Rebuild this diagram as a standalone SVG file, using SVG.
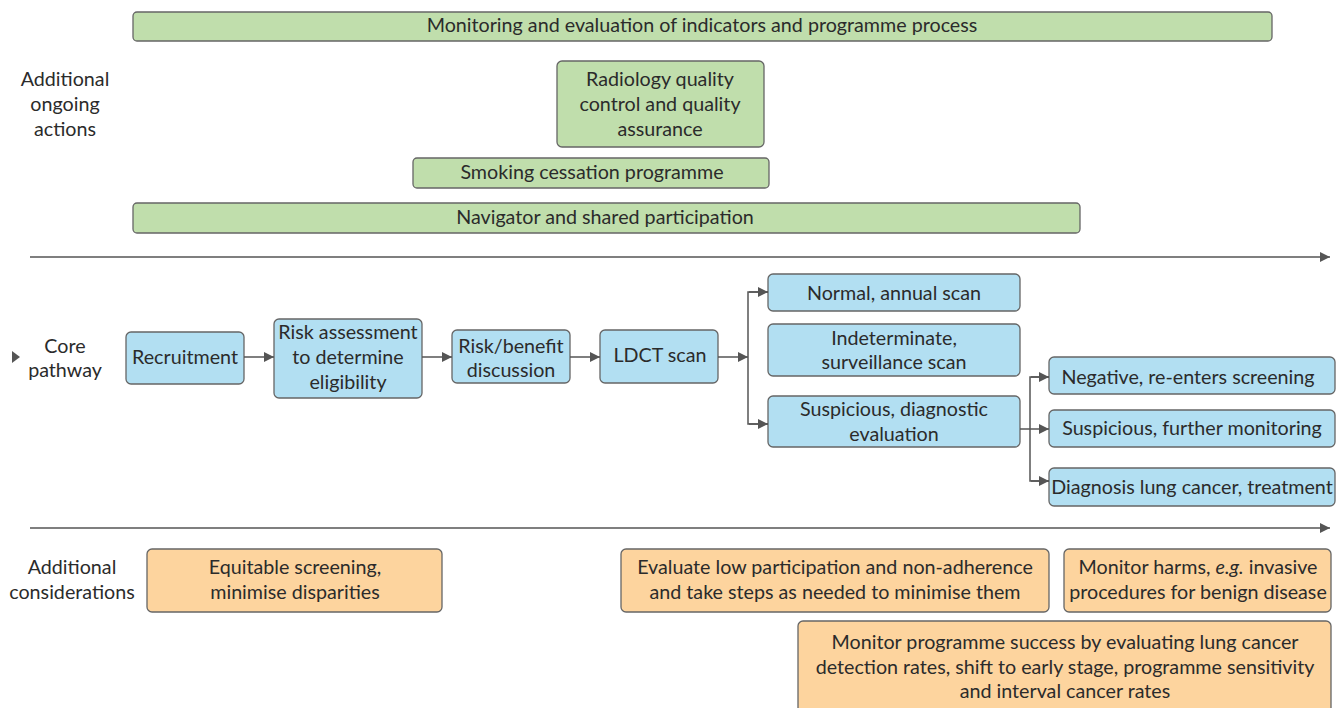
<svg xmlns="http://www.w3.org/2000/svg" width="1336" height="708" viewBox="0 0 1336 708">
<style>
  text { font-family: Lato, "Noto Sans", sans-serif; font-size: 19.7px; fill: #2b2b2b; text-anchor: middle; dominant-baseline: central; }
  .g { fill: #c0deac; stroke: #666; stroke-width: 1.3; }
  .b { fill: #b2dff2; stroke: #666; stroke-width: 1.3; }
  .o { fill: #fdd49e; stroke: #666; stroke-width: 1.3; }
  .ln { fill: none; stroke: #555; stroke-width: 1.5; }
</style>
<defs>
  <marker id="ah" viewBox="0 0 10 10" refX="10" refY="5" markerWidth="10" markerHeight="10" markerUnits="userSpaceOnUse" orient="auto">
    <path d="M0,0 L10,5 L0,10 z" fill="#555"/>
  </marker>
</defs>
<rect width="1336" height="708" fill="#fff"/>

<g id="labels">
  <text x="65" y="78">Additional</text>
  <text x="65" y="103">ongoing</text>
  <text x="65" y="128">actions</text>
  <path d="M12,351 L20,357 L12,363 z" fill="#555"/>
  <text x="65" y="345">Core</text>
  <text x="65" y="369">pathway</text>
  <text x="72" y="566">Additional</text>
  <text x="72" y="591">considerations</text>
</g>

<g id="monitoring"><rect class="g" x="133" y="12" width="1139" height="29" rx="4"/><text x="702" y="24">Monitoring and evaluation of indicators and programme process</text></g>
<g id="radiology"><rect class="g" x="557" y="61" width="207" height="86" rx="5"/><text x="660" y="78">Radiology quality</text><text x="660" y="103">control and quality</text><text x="660" y="128">assurance</text></g>
<g id="smoking"><rect class="g" x="413" y="158" width="356" height="30" rx="4"/><text x="592" y="171">Smoking cessation programme</text></g>
<g id="navigator"><rect class="g" x="133" y="203" width="947" height="30" rx="4"/><text x="605" y="216">Navigator and shared participation</text></g>

<g id="recruitment"><rect class="b" x="126" y="332" width="118" height="52" rx="5"/><text x="185" y="356">Recruitment</text></g>
<g id="risk"><rect class="b" x="274" y="319" width="148" height="79" rx="5"/><text x="348" y="331">Risk assessment</text><text x="348" y="356">to determine</text><text x="348" y="381">eligibility</text></g>
<g id="riskbenefit"><rect class="b" x="452" y="330" width="118" height="53" rx="5"/><text x="511" y="345">Risk/benefit</text><text x="511" y="369">discussion</text></g>
<g id="ldct"><rect class="b" x="600" y="330" width="118" height="53" rx="5"/><text x="660" y="354">LDCT scan</text></g>
<g id="normal"><rect class="b" x="768" y="274" width="252" height="37" rx="5"/><text x="894" y="292">Normal, annual scan</text></g>
<g id="indeterminate"><rect class="b" x="768" y="324" width="252" height="52" rx="5"/><text x="894" y="337">Indeterminate,</text><text x="894" y="361">surveillance scan</text></g>
<g id="suspdiag"><rect class="b" x="768" y="396" width="252" height="51" rx="5"/><text x="894" y="408">Suspicious, diagnostic</text><text x="894" y="433">evaluation</text></g>
<g id="negative"><rect class="b" x="1049" y="357" width="286" height="37" rx="5"/><text x="1188" y="376">Negative, re-enters screening</text></g>
<g id="suspfurther"><rect class="b" x="1049" y="410" width="286" height="37" rx="5"/><text x="1192" y="427">Suspicious, further monitoring</text></g>
<g id="diagnosis"><rect class="b" x="1049" y="468" width="286" height="38" rx="5"/><text x="1192" y="486">Diagnosis lung cancer, treatment</text></g>

<g id="equitable"><rect class="o" x="147" y="549" width="295" height="63" rx="5"/><text x="295" y="566">Equitable screening,</text><text x="295" y="591">minimise disparities</text></g>
<g id="evaluate"><rect class="o" x="621" y="549" width="428" height="63" rx="5"/><text x="835" y="566">Evaluate low participation and non-adherence</text><text x="835" y="591">and take steps as needed to minimise them</text></g>
<g id="harms"><rect class="o" x="1064" y="549" width="267" height="63" rx="5"/><text x="1198" y="566">Monitor harms, <tspan font-style="italic">e.g.</tspan> invasive</text><text x="1198" y="591">procedures for benign disease</text></g>
<g id="success"><rect class="o" x="798" y="621" width="533" height="95" rx="5"/><text x="1065" y="641">Monitor programme success by evaluating lung cancer</text><text x="1065" y="666">detection rates, shift to early stage, programme sensitivity</text><text x="1065" y="690">and interval cancer rates</text></g>

<g id="connectors">
  <line class="ln" x1="30" y1="257" x2="1330" y2="257" marker-end="url(#ah)"/>
  <line class="ln" x1="30" y1="528" x2="1330" y2="528" marker-end="url(#ah)"/>
  <line class="ln" x1="244" y1="357" x2="274" y2="357" marker-end="url(#ah)"/>
  <line class="ln" x1="422" y1="357" x2="452" y2="357" marker-end="url(#ah)"/>
  <line class="ln" x1="570" y1="357" x2="600" y2="357" marker-end="url(#ah)"/>
  <line class="ln" x1="718" y1="357" x2="748" y2="357" marker-end="url(#ah)"/>
  <path class="ln" d="M768,292 H748 V424 H768" />
  <line class="ln" x1="749" y1="292" x2="768" y2="292" marker-end="url(#ah)"/>
  <line class="ln" x1="749" y1="424" x2="768" y2="424" marker-end="url(#ah)"/>
  <line class="ln" x1="1020" y1="429" x2="1049" y2="429" marker-end="url(#ah)"/>
  <path class="ln" d="M1049,377 H1030 V481 H1049" />
  <line class="ln" x1="1031" y1="377" x2="1049" y2="377" marker-end="url(#ah)"/>
  <line class="ln" x1="1031" y1="481" x2="1049" y2="481" marker-end="url(#ah)"/>
</g>
</svg>
